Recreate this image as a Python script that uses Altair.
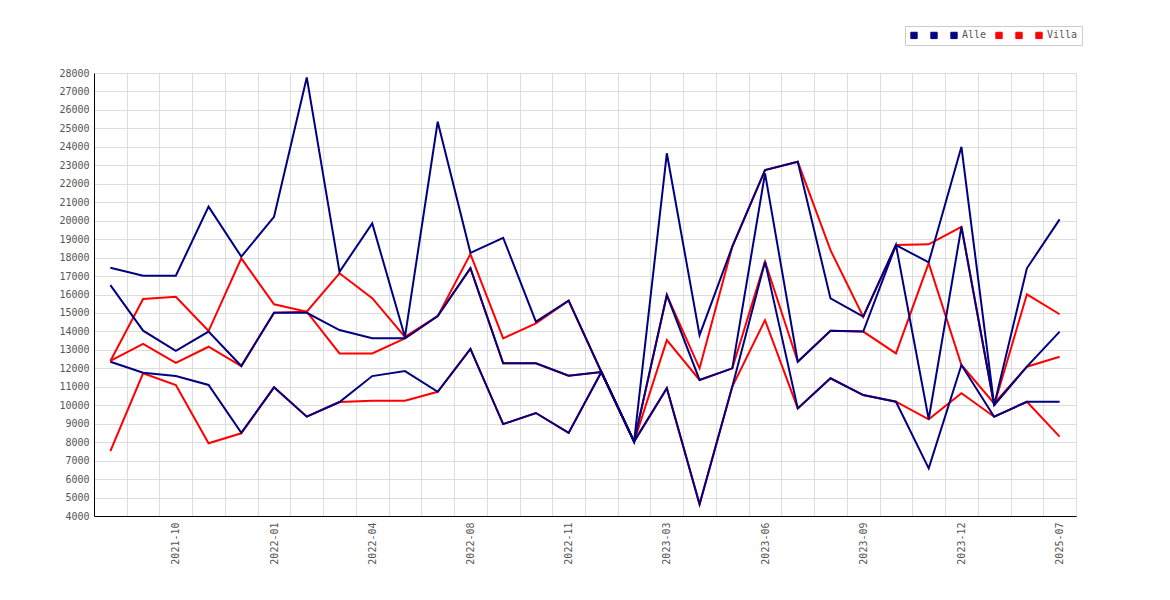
import altair as alt
import pandas as pd

cats = ["2021-08", "2021-09", "2021-10", "2021-11", "2021-12", "2022-01", "2022-02",
        "2022-03", "2022-04", "2022-05", "2022-06", "2022-08", "2022-09", "2022-10",
        "2022-11", "2022-12", "2023-01", "2023-03", "2023-04", "2023-05", "2023-06",
        "2023-07", "2023-08", "2023-09", "2023-10", "2023-11", "2023-12", "2024-01",
        "2024-02", "2025-07"]
tick_labels = ["2021-10", "2022-01", "2022-04", "2022-08", "2022-11", "2023-03",
               "2023-06", "2023-09", "2023-12", "2025-07"]
y_ticks = [4000, 5000, 6000, 7000, 8000, 9000, 10000, 11000, 12000, 13000, 14000,
           15000, 16000, 17000, 18000, 19000, 20000, 21000, 22000, 23000, 24000,
           25000, 26000, 27000, 28000]

alle_1 = [17450, 17020, 17020, 20760, 18050, 20210, 27760, 17230, 19850, 13700, 25360,
          18260, 19075, 14530, 15670, 11800, 8030, 23650, 13800, 18590, 22740, 23190,
          15790, 14800, 18680, 17740, 24000, 10000, 17420, 20070]
alle_2 = [16510, 14040, 12950, 13990, 12125, 15010, 15010, 14075, 13625, 13625, 14830,
          17420, 12270, 12270, 11600, 11800, 8030, 15970, 11370, 12000, 22560, 12360,
          14040, 13990, 18680, 9240, 19670, 10000, 12090, 13990]
alle_3 = [12360, 11760, 11580, 11100, 8510, 10970, 9380, 10175, 11580, 11850, 10730,
          13050, 8980, 9580, 8500, 11800, 8030, 10920, 4630, 11010, 17780, 9830,
          11460, 10550, 10190, 6580, 12180, 9380, 10190, 10190]
villa_1 = [12400, 15755, 15880, 14020, 17960, 15470, 15070, 17150, 15800, 13700, 14830,
           18190, 13625, 14440, 15670, 11800, 8030, 15970, 12000, 18590, 22740, 23190,
           18400, 14800, 18680, 18720, 19670, 10000, 16010, 14930]
villa_2 = [12400, 13320, 12300, 13170, 12125, 15010, 15070, 12810, 12810, 13625, 14830,
           17420, 12270, 12270, 11600, 11800, 8030, 13530, 11370, 12000, 17780, 12360,
           14040, 13990, 12810, 17700, 12180, 10100, 12090, 12630]
villa_3 = [7520, 11730, 11100, 7940, 8480, 10970, 9380, 10175, 10245, 10245, 10730,
           13050, 8980, 9580, 8500, 11800, 8030, 10920, 4630, 11010, 14610, 9830,
           11460, 10550, 10190, 9240, 10650, 9380, 10190, 8300]

series_names = ["Alle_a", "Alle_b", "Alle", "Villa_a", "Villa_b", "Villa"]
series_colors = ["#000080", "#000080", "#000080", "#ff0000", "#ff0000", "#ff0000"]

def long(name, vals):
    return pd.DataFrame({"month": cats, "value": vals, "series": name})

df_alle = pd.concat([long("Alle_a", alle_1), long("Alle_b", alle_2), long("Alle", alle_3)])
df_villa = pd.concat([long("Villa_a", villa_1), long("Villa_b", villa_2), long("Villa", villa_3)])

FONT = "DejaVu Sans Mono"
label_list = "[" + ",".join("'" + t + "'" for t in tick_labels) + "]"

x_enc = alt.X("month:O", sort=cats, bandPosition=0.5,
              scale=alt.Scale(type="band", domain=cats, paddingInner=0, paddingOuter=0),
              axis=alt.Axis(title=None, tickBand="extent", ticks=False, grid=True,
                            labelAngle=270, labelOverlap=False, labelPadding=6,
                            labelExpr="indexof(" + label_list + ", datum.value) >= 0 ? datum.label : ''"))
y_enc = alt.Y("value:Q",
              scale=alt.Scale(domain=[4000, 28000], nice=False, zero=False),
              axis=alt.Axis(title=None, values=y_ticks, format="d", ticks=False,
                            grid=True, labelPadding=5))
c_enc = alt.Color("series:N",
                  scale=alt.Scale(domain=series_names, range=series_colors),
                  legend=alt.Legend(title=None, orient="none", direction="horizontal",
                                    legendX=811, legendY=-47, symbolType="square",
                                    symbolSize=40, symbolStrokeColor="#666",
                                    symbolStrokeWidth=1, symbolOpacity=1,
                                    labelOffset=3, columnPadding=6, padding=4,
                                    strokeColor="#ccc", fillColor="white",
                                    labelFont=FONT, labelFontSize=10, labelColor="#555",
                                    labelExpr="(datum.label == 'Alle' || datum.label == 'Villa') ? datum.label : ' '"))

# invisible filled-square layer so the legend shows filled squares
legend_layer = alt.Chart(df_alle).mark_square(filled=True, size=0, opacity=0).encode(
    x=x_enc, y=y_enc, color=c_enc)
red = alt.Chart(df_villa).mark_line(strokeWidth=2, interpolate="linear").encode(
    x=x_enc, y=y_enc, color=c_enc, detail="series:N")
navy = alt.Chart(df_alle).mark_line(strokeWidth=2, interpolate="linear").encode(
    x=x_enc, y=y_enc, color=c_enc, detail="series:N")

chart = alt.layer(legend_layer, red, navy).properties(
    width=982, height=443,
    autosize=alt.AutoSizeParams(type="none"),
    padding={"left": 86, "top": 65, "right": 30, "bottom": 70},
    background="white",
).configure_axis(
    labelFont=FONT, labelFontSize=10, labelColor="#555",
    domainColor="black", domainWidth=1,
    gridColor="#dddddd", gridWidth=1,
).configure_view(stroke=None)

chart.save("out.html", embed_options={"renderer": "svg", "actions": False})
